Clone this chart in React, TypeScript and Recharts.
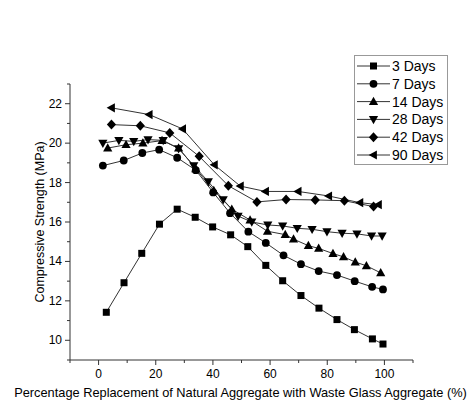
import { LineChart, Line, XAxis, YAxis, Legend } from "recharts";

const FONT = "Arial, 'Liberation Sans', Helvetica, sans-serif";

const days3X = [2.7, 8.9, 15.1, 21.3, 27.5, 33.8, 39.9, 46.2, 52.2, 58.5, 64.4, 70.8, 77.1, 83.4, 89.5, 95.8, 99.5];
const days3Y = [11.42, 12.92, 14.41, 15.89, 16.65, 16.24, 15.75, 15.35, 14.75, 13.8, 13.02, 12.27, 11.63, 11.05, 10.54, 10.07, 9.81];

const days7X = [1.5, 8.8, 15.3, 21.2, 27.5, 34.0, 40.1, 46.0, 52.4, 58.5, 64.7, 70.8, 77.0, 83.4, 89.6, 95.7, 99.5];
const days7Y = [18.86, 19.12, 19.5, 19.67, 19.26, 18.63, 17.5, 16.45, 15.51, 14.94, 14.31, 13.86, 13.51, 13.31, 13.0, 12.71, 12.58];

const days14X = [3.2, 9.6, 15.5, 22.2, 28.0, 34.0, 40.3, 46.6, 53.0, 59.1, 65.3, 68.2, 73.4, 77.0, 82.0, 85.7, 89.8, 93.7, 98.7];
const days14Y = [19.75, 19.92, 20.0, 20.13, 19.75, 18.7, 17.6, 16.65, 16.1, 15.53, 15.36, 15.13, 14.8, 14.66, 14.4, 14.23, 13.97, 13.78, 13.42];

const days28X = [1.5, 7.1, 12.3, 17.3, 22.6, 28.0, 33.3, 38.4, 43.6, 48.8, 53.6, 59.2, 64.4, 69.5, 74.7, 79.9, 85.2, 90.4, 95.5, 99.2];
const days28Y = [20.0, 20.14, 20.09, 20.18, 20.14, 19.72, 18.86, 18.05, 17.13, 16.3, 16.0, 15.85, 15.8, 15.68, 15.63, 15.51, 15.43, 15.4, 15.29, 15.29];

const days42X = [4.5, 14.6, 24.9, 35.2, 45.4, 55.4, 65.6, 75.8, 86.0, 96.2];
const days42Y = [20.94, 20.88, 20.52, 19.33, 17.84, 17.02, 17.14, 17.12, 17.08, 16.78];

const days90X = [4.5, 17.7, 29.4, 40.5, 49.6, 58.4, 69.8, 80.5, 91.4, 97.9];
const days90Y = [21.79, 21.45, 20.72, 18.9, 17.82, 17.55, 17.55, 17.32, 16.98, 16.88];

const xTicks = [-10, 0, 10, 20, 30, 40, 50, 60, 70, 80, 90, 100, 110];
const yTicks = [9, 10, 11, 12, 13, 14, 15, 16, 17, 18, 19, 20, 21, 22, 23];

const zip = (xs: number[], ys: number[]) => xs.map((x, i) => ({ x, y: ys[i] }));

type Shape = "square" | "circle" | "up" | "down" | "diamond" | "left";

function Marker({ shape, cx, cy }: { shape: Shape; cx: number; cy: number }) {
  const c = "#000";
  switch (shape) {
    case "square":
      return <rect x={cx - 3.5} y={cy - 3.5} width={7} height={7} fill={c} />;
    case "circle":
      return <circle cx={cx} cy={cy} r={3.9} fill={c} />;
    case "up":
      return <polygon points={`${cx},${cy - 4.8} ${cx + 4.6},${cy + 3.4} ${cx - 4.6},${cy + 3.4}`} fill={c} />;
    case "down":
      return <polygon points={`${cx},${cy + 4.8} ${cx + 4.6},${cy - 3.4} ${cx - 4.6},${cy - 3.4}`} fill={c} />;
    case "diamond":
      return <polygon points={`${cx},${cy - 5} ${cx + 4.6},${cy} ${cx},${cy + 5} ${cx - 4.6},${cy}`} fill={c} />;
    default:
      return <polygon points={`${cx - 4.8},${cy} ${cx + 3.4},${cy - 4.6} ${cx + 3.4},${cy + 4.6}`} fill={c} />;
  }
}

const series: { name: string; shape: Shape; data: { x: number; y: number }[] }[] = [
  { name: "3 Days", shape: "square", data: zip(days3X, days3Y) },
  { name: "7 Days", shape: "circle", data: zip(days7X, days7Y) },
  { name: "14 Days", shape: "up", data: zip(days14X, days14Y) },
  { name: "28 Days", shape: "down", data: zip(days28X, days28Y) },
  { name: "42 Days", shape: "diamond", data: zip(days42X, days42Y) },
  { name: "90 Days", shape: "left", data: zip(days90X, days90Y) },
];

function XTick(props: any) {
  const { x, y, payload } = props;
  const major = payload.value % 20 === 0;
  return (
    <g>
      <line x1={x} x2={x} y1={y} y2={y + (major ? 5 : 3)} stroke="#333" />
      {major && (
        <text x={x} y={y + 18} textAnchor="middle" fontSize={12} fontFamily={FONT} fill="#000">
          {payload.value}
        </text>
      )}
    </g>
  );
}

function YTick(props: any) {
  const { x, y, payload } = props;
  const major = payload.value % 2 === 0;
  return (
    <g>
      <line x1={x} x2={x - (major ? 5 : 3)} y1={y} y2={y} stroke="#333" />
      {major && (
        <text x={x - 8} y={y + 4} textAnchor="end" fontSize={12} fontFamily={FONT} fill="#000">
          {payload.value}
        </text>
      )}
    </g>
  );
}

function LegendBox() {
  return (
    <svg width={94} height={110} style={{ display: "block" }}>
      <rect x={0.5} y={0.5} width={93} height={109} fill="#fff" stroke="#999" />
      {series.map((s, i) => {
        const cy = 11 + i * 17.8;
        return (
          <g key={s.name}>
            <line x1={3} x2={36} y1={cy} y2={cy} stroke="#333" />
            <Marker shape={s.shape} cx={19.5} cy={cy} />
            <text x={38} y={cy + 5} fontSize={14} fontFamily={FONT} fill="#000">
              {s.name}
            </text>
          </g>
        );
      })}
    </svg>
  );
}

export default function App() {
  return (
    <div style={{ position: "absolute", left: 0, top: 0, width: 473, height: 407, background: "#fff" }}>
      <LineChart width={473} height={407} margin={{ top: 84, right: 60, bottom: 0, left: 0 }}>
        <XAxis
          type="number"
          dataKey="x"
          domain={[-10, 110]}
          ticks={xTicks}
          interval={0}
          height={47}
          tickSize={0}
          tickMargin={0}
          tickLine={false}
          tick={<XTick />}
          stroke="#333"
          allowDuplicatedCategory={false}
          label={{
            content: (p: any) => {
              const vb = p.viewBox;
              return (
                <text x={vb.x + vb.width / 2 - 1} y={vb.y + 37} textAnchor="middle" fontSize={12.8} fontFamily={FONT} fill="#000">
                  Percentage Replacement of Natural Aggregate with Waste Glass Aggregate (%)
                </text>
              );
            },
          }}
        />
        <YAxis
          type="number"
          dataKey="y"
          domain={[9, 23]}
          ticks={yTicks}
          interval={0}
          width={70}
          tickSize={0}
          tickMargin={0}
          tickLine={false}
          tick={<YTick />}
          stroke="#333"
          label={{
            content: (p: any) => {
              const vb = p.viewBox;
              const cx = 40;
              const cy = vb.y + vb.height / 2;
              return (
                <text x={cx} y={cy} transform={`rotate(-90 ${cx} ${cy})`} textAnchor="middle" dominantBaseline="central" fontSize={12.5} fontFamily={FONT} fill="#000">
                  Compressive Strength (MPa)
                </text>
              );
            },
          }}
        />
        <Legend
          layout="vertical"
          align="center"
          verticalAlign="middle"
          content={() => <LegendBox />}
          wrapperStyle={{ left: 354, top: 55, width: 94, height: 110 }}
        />
        {series.map((s) => (
          <Line
            key={s.name}
            data={s.data}
            dataKey="y"
            name={s.name}
            type="linear"
            stroke="#333"
            strokeWidth={1}
            isAnimationActive={false}
            dot={(p: any) => <Marker key={`${s.name}-${p.index}`} shape={s.shape} cx={p.cx} cy={p.cy} />}
            activeDot={false}
          />
        ))}
      </LineChart>
    </div>
  );
}
